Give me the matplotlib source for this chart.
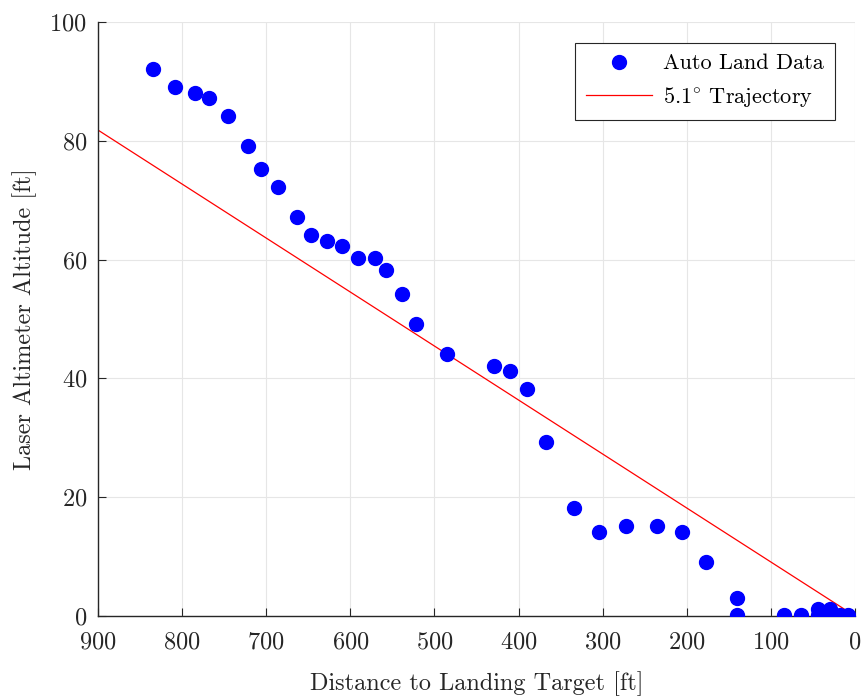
import numpy as np
import matplotlib
matplotlib.use("Agg")
import matplotlib.pyplot as plt

plt.rcParams['font.family'] = 'serif'
plt.rcParams['font.serif'] = ['cmr10']
plt.rcParams['mathtext.fontset'] = 'cm'
plt.rcParams['axes.formatter.use_mathtext'] = True

# auto land run: distance to target [ft] vs laser altimeter altitude [ft]
distance = [834.6, 808.5, 784.7, 768.0, 745.4, 721.7, 706.2, 686.0, 663.4, 646.8,
            627.7, 609.9, 590.9, 570.7, 557.6, 538.6, 521.9, 485.1, 429.2, 410.2,
            389.9, 367.4, 334.1, 304.4, 272.3, 235.4, 205.7, 177.1, 140.0, 140.0,
            84.0, 64.0, 43.5, 43.5, 30.0, 30.0, 17.5, 8.0]
altitude = [92.1, 89.1, 88.0, 87.2, 84.2, 79.1, 75.3, 72.2, 67.2, 64.1,
            63.1, 62.3, 60.3, 60.3, 58.2, 54.2, 49.2, 44.1, 42.1, 41.2,
            38.2, 29.3, 18.2, 14.1, 15.2, 15.2, 14.1, 9.1, 3.1, 0.2,
            0.1, 0.1, 1.2, 0.1, 1.2, 0.1, 0.1, 0.1]

# reference glide slope
traj_x = [900, 0]
traj_y = [81.8, 0]

grey = '#262626'

fig = plt.figure(figsize=(8.63, 6.98), dpi=100)
ax = fig.add_axes([0.1136, 0.1175, 0.8771, 0.851])

ax.plot(distance, altitude, 'o', color='#0000ff', markersize=10,
        label='Auto Land Data', zorder=3)
ax.plot(traj_x, traj_y, '-', color='#ff0000', linewidth=0.9,
        label=r'5.1$^{\circ}$ Trajectory', zorder=2)

ax.set_xlim(900, 0)
ax.set_ylim(0, 100)
ax.set_xticks(np.arange(900, -1, -100))
ax.set_yticks(np.arange(0, 101, 20))

ax.grid(True, color='#e6e6e6', linewidth=0.8)
ax.set_axisbelow(True)
for s in ['top', 'right']:
    ax.spines[s].set_visible(False)
for s in ['left', 'bottom']:
    ax.spines[s].set_color(grey)
    ax.spines[s].set_linewidth(1.0)
ax.tick_params(direction='in', length=6, width=0.8, colors=grey,
               labelsize=17.5, labelcolor=grey)
ax.tick_params(axis='x', pad=11)
ax.tick_params(axis='y', pad=8)

ax.set_xlabel('Distance to Landing Target [ft]', fontsize=17.5, color=grey, labelpad=13)
ax.set_ylabel('Laser Altimeter Altitude [ft]', fontsize=17.5, color=grey, labelpad=9)

leg = ax.legend(loc='upper right', fontsize=16, fancybox=False, framealpha=1,
                edgecolor=grey, borderaxespad=0, handlelength=3.0,
                handletextpad=0.5, borderpad=0.5, labelspacing=0.5,
                bbox_to_anchor=(0.974, 0.965))
leg.get_frame().set_linewidth(0.8)

fig.savefig('out.png', dpi=100)
